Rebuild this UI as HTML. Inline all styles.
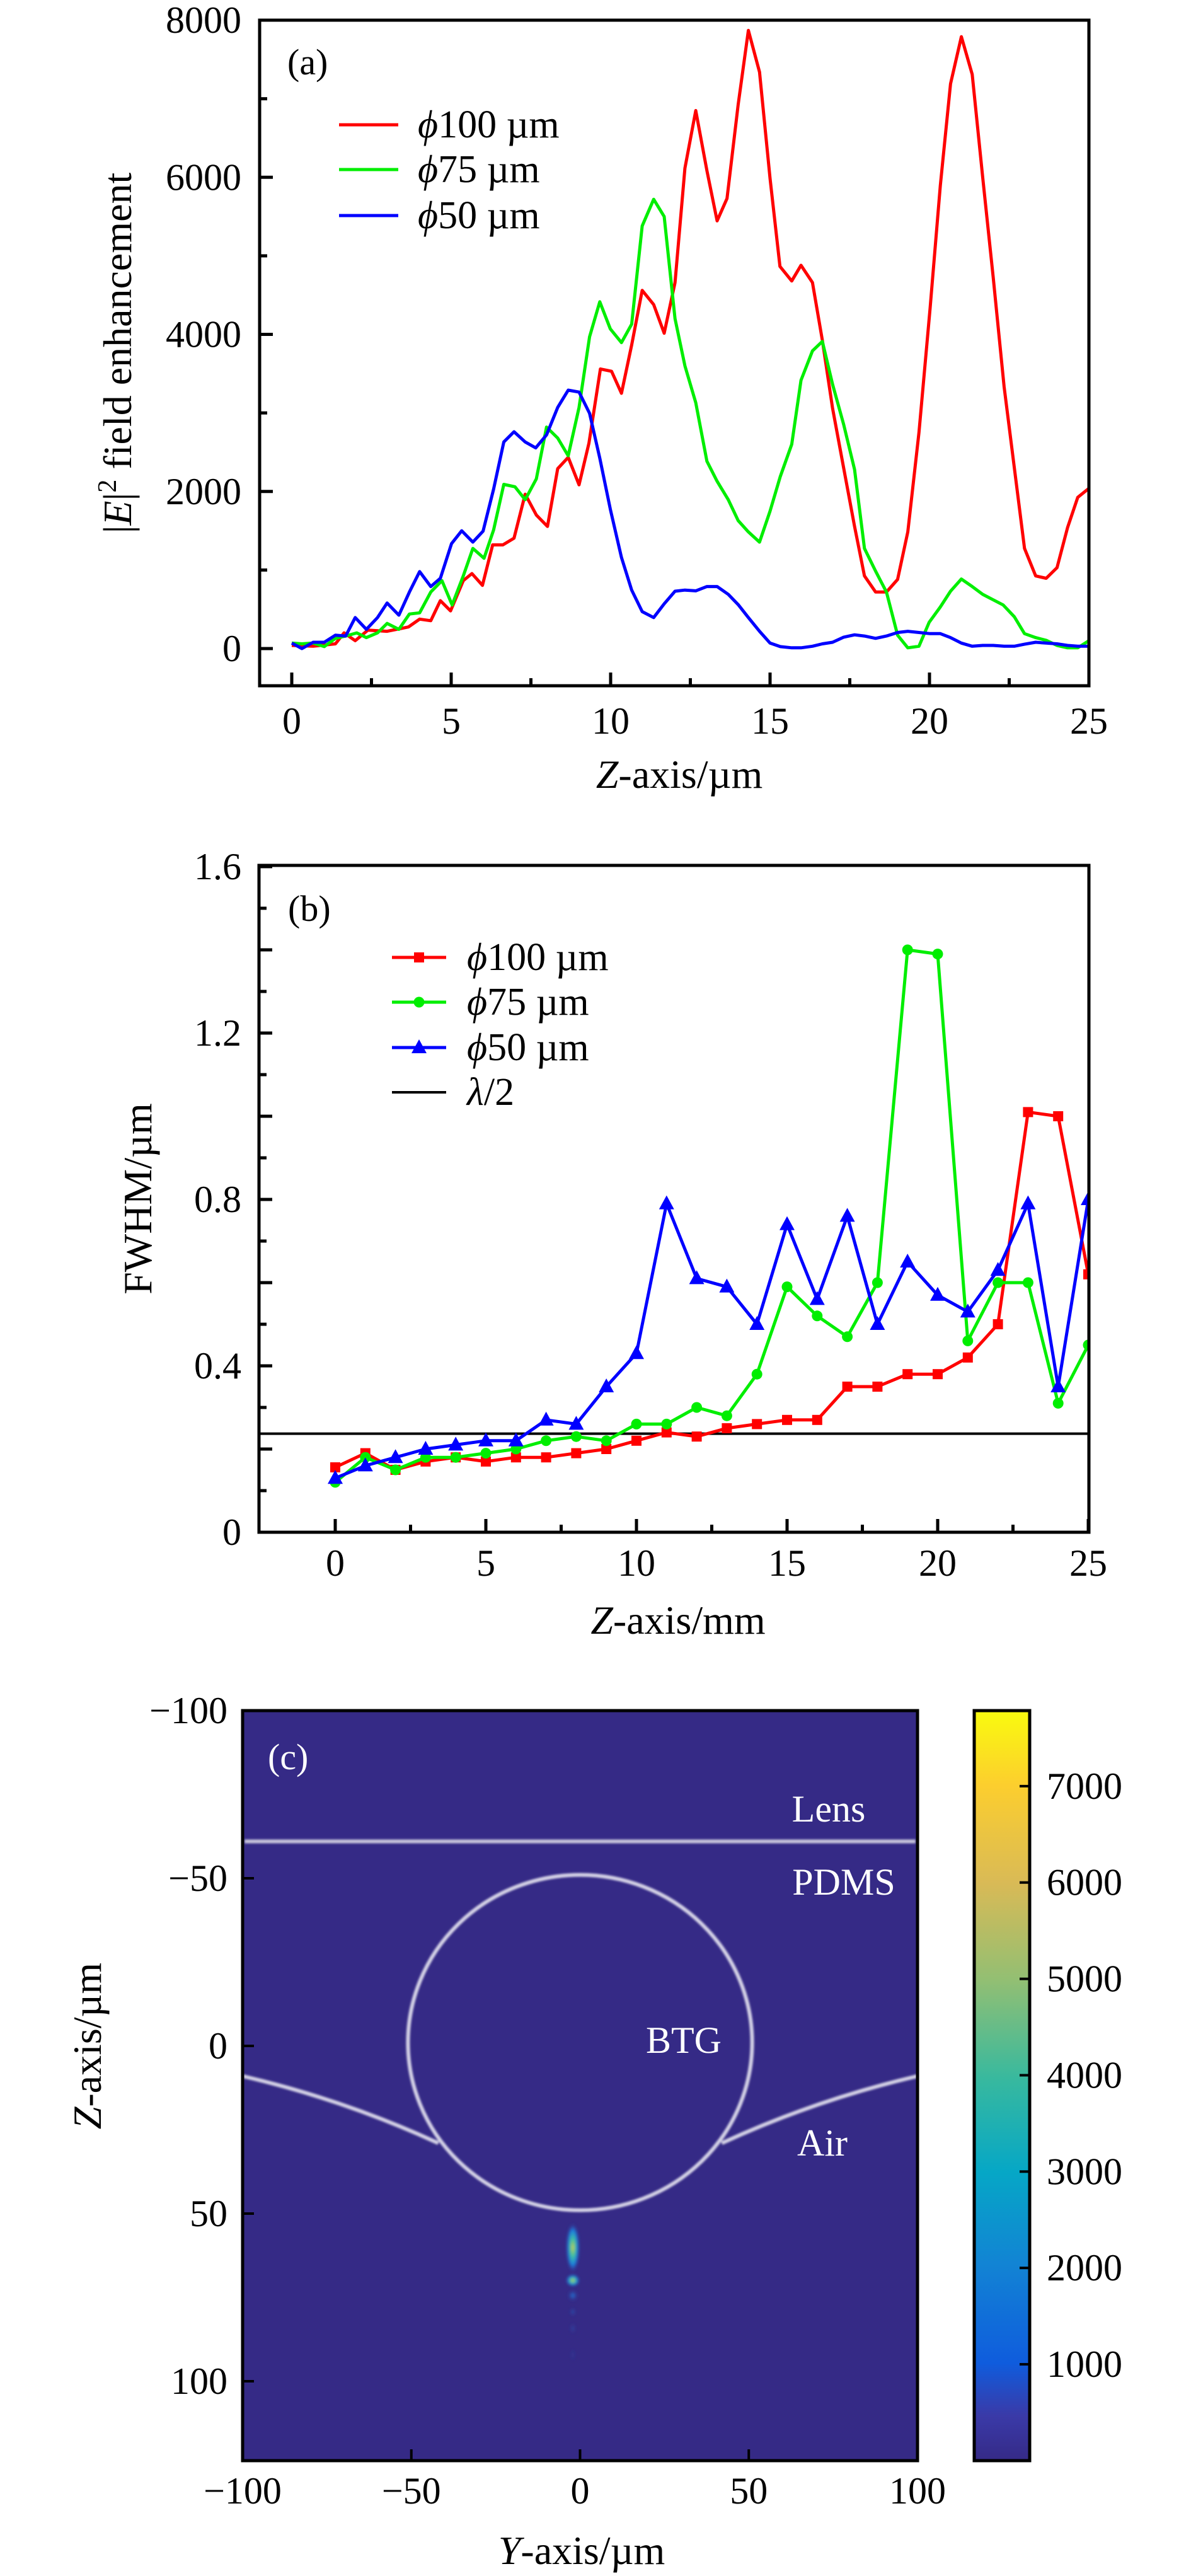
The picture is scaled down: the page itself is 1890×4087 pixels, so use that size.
<!DOCTYPE html>
<html><head><meta charset="utf-8"><title>Field enhancement figure</title>
<style>
html,body{margin:0;padding:0;background:#fff;}
svg{display:block;}
text{font-family:"Liberation Serif",serif;fill:#000;}
</style></head>
<body>
<svg id="fig" width="1890" height="4087" viewBox="0 0 1890 4087" xmlns="http://www.w3.org/2000/svg">
<defs>
<linearGradient id="parula" x1="0" y1="1" x2="0" y2="0">
<stop offset="0" stop-color="#352a87"/><stop offset="0.06" stop-color="#3a3aa8"/><stop offset="0.13" stop-color="#0f5cdd"/><stop offset="0.26" stop-color="#1283d4"/><stop offset="0.385" stop-color="#06a7c6"/><stop offset="0.51" stop-color="#38b99e"/><stop offset="0.64" stop-color="#92bf73"/><stop offset="0.77" stop-color="#d9ba56"/><stop offset="0.9" stop-color="#fcce2e"/><stop offset="1" stop-color="#f9fb0e"/>
</linearGradient>
<radialGradient id="spot1"><stop offset="0" stop-color="#d6d040"/><stop offset="0.35" stop-color="#40c0a0"/><stop offset="0.7" stop-color="#1a7ee0"/><stop offset="1" stop-color="#352a87" stop-opacity="0"/></radialGradient>
<radialGradient id="spot2"><stop offset="0" stop-color="#1a7ee0"/><stop offset="1" stop-color="#352a87" stop-opacity="0"/></radialGradient>
<filter id="blur"><feGaussianBlur stdDeviation="1.6"/></filter>
<filter id="blur2"><feGaussianBlur stdDeviation="2.5"/></filter>
</defs>
<g id="layer"></g>
</svg>
<script>
// ---------- Panel (a) data ----------
const aRedX=[0,0.67,1.37,1.64,1.99,2.39,2.99,3.66,4.01,4.36,4.66,4.98,5.38,5.65,5.98,6.3,6.62,6.97,7.32,7.67,8.02,8.34,8.67,9.01,9.32,9.68,10.03,10.34,10.66,10.99,11.35,11.68,12.02,12.33,12.67,13.02,13.34,13.65,14.0,14.32,14.67,15.0,15.31,15.68,15.97,16.33,16.64,16.96,17.31,17.65,17.96,18.31,18.65,19.0,19.32,19.67,20.02,20.34,20.66,21.0,21.34,21.67,22.0,22.34,22.66,22.98,23.33,23.66,24.0,24.33,24.65,25];
const aRedY=[40,30,60,200,100,235,220,275,375,355,610,480,865,955,805,1320,1320,1405,1965,1700,1555,2290,2435,2085,2615,3560,3530,3250,3865,4560,4380,4015,4660,6115,6850,6085,5445,5730,6925,7870,7340,5985,4865,4680,4880,4660,3925,3060,2295,1555,925,720,720,880,1485,2750,4335,5895,7190,7790,7310,5995,4720,3335,2305,1275,925,895,1030,1540,1925,2040];
const aGreenX=[0,0.32,0.67,1.02,1.37,1.69,2.04,2.34,2.69,2.99,3.36,3.69,4.01,4.36,4.71,5.03,5.38,5.68,6.03,6.33,6.65,7.0,7.32,7.67,7.99,8.34,8.67,9.01,9.34,9.66,9.99,10.34,10.66,10.99,11.35,11.68,12.02,12.33,12.67,13.02,13.34,13.69,14.0,14.32,14.67,15.0,15.32,15.68,15.97,16.33,16.64,16.96,17.31,17.65,17.96,18.31,18.65,19.0,19.32,19.67,19.99,20.34,20.66,21.0,21.34,21.67,22.0,22.31,22.66,22.98,23.33,23.66,24.0,24.33,24.65,25];
const aGreenY=[70,60,70,25,130,160,200,140,200,320,245,440,455,720,865,555,925,1275,1150,1510,2090,2060,1895,2160,2820,2680,2455,3070,3970,4415,4070,3895,4130,5380,5720,5500,4200,3600,3130,2385,2130,1895,1630,1485,1355,1750,2190,2600,3415,3790,3910,3365,2850,2280,1275,985,720,170,10,30,335,530,730,885,790,690,620,555,405,190,140,105,40,10,10,100];
const aBlueX=[0,0.32,0.67,1.02,1.37,1.69,1.99,2.34,2.69,2.99,3.36,3.69,4.01,4.36,4.66,5.01,5.33,5.68,6.0,6.33,6.65,6.97,7.32,7.65,7.99,8.34,8.67,9.01,9.34,9.66,9.99,10.34,10.66,10.99,11.35,11.68,12.02,12.33,12.67,13.02,13.34,13.69,14.0,14.32,14.67,15.0,15.32,15.68,15.97,16.33,16.64,16.96,17.31,17.65,17.96,18.31,18.65,19.0,19.32,19.67,20.02,20.34,20.66,21.0,21.34,21.67,22.0,22.34,22.66,22.98,23.33,23.66,24.0,24.33,24.65,25];
const aBlueY=[70,0,80,80,170,160,395,245,395,580,425,720,980,790,895,1335,1500,1355,1495,2030,2630,2760,2630,2555,2720,3070,3290,3265,2995,2425,1775,1160,745,470,395,570,730,745,735,790,790,690,560,395,220,70,25,10,10,30,60,80,145,175,160,130,160,205,220,205,190,190,140,70,30,40,40,30,30,55,80,70,60,40,30,30];
const aXTicks=[0,5,10,15,20,25];
const aYTicks=[0,2000,4000,6000,8000];
// ---------- Panel (b) data ----------
const bZ=[0,1,2,3,4,5,6,7,8,9,10,11,12,13,14,15,16,17,18,19,20,21,22,23,24,25];
const b100=[0.156,0.19,0.15,0.17,0.18,0.17,0.18,0.18,0.19,0.20,0.22,0.24,0.23,0.25,0.26,0.27,0.27,0.35,0.35,0.38,0.38,0.42,0.50,1.01,1.00,0.62];
const b75=[0.12,0.18,0.15,0.18,0.18,0.19,0.20,0.22,0.23,0.22,0.26,0.26,0.30,0.28,0.38,0.59,0.52,0.47,0.60,1.40,1.39,0.46,0.60,0.60,0.31,0.45];
const b50=[0.13,0.16,0.18,0.20,0.21,0.22,0.22,0.27,0.26,0.35,0.43,0.79,0.61,0.59,0.50,0.74,0.56,0.76,0.50,0.65,0.57,0.53,0.63,0.79,0.35,0.80];
const bHalfLambda=[0.237];
const bXTicks=[0,5,10,15,20,25];
const bYTicks=[0,0.4,0.8,1.2,1.6];
const bYTickLabels=["0","0.4","0.8","1.2","1.6"];
// ---------- Panel (c) data ----------
const cXTicks=[-100,-50,0,50,100];
const cYTicks=[-100,-50,0,50,100];
const cBarTicks=[1000,2000,3000,4000,5000,6000,7000];

const NS="http://www.w3.org/2000/svg";
const root=document.getElementById('layer');
function mk(tag,attrs,parent){const e=document.createElementNS(NS,tag);for(const k in attrs)e.setAttribute(k,attrs[k]);(parent||root).appendChild(e);return e;}
function txt(s,x,y,size,anchor,parent,extra){const t=mk('text',Object.assign({x:x,y:y,'font-size':size,'text-anchor':anchor||'middle'},extra||{}),parent);t.textContent=s;return t;}

// scales
const ax=v=>463+v*50.6, ay=v=>1029-v*0.12462;
const bx=v=>532+v*47.8, by=v=>2431-v*660;
const cx=v=>920.5+v*5.355, cy=v=>3246+v*5.32;

// ===== Panel (a) =====
const pa=mk('g',{});


function series(xs,ys,fx,fy,color,name,parent){
  let d='';xs.forEach((x,i)=>{d+=(i?'L':'M')+fx(x).toFixed(1)+' '+fy(ys[i]).toFixed(1);});
  const p=mk('path',{d:d,fill:'none',stroke:color,'stroke-width':5,'stroke-linejoin':'round'},parent);
  
  
  return p;
}
const clipA=mk('clipPath',{id:'clipA'},pa);mk('rect',{x:412,y:32,width:1316,height:1056},clipA);
const ga=mk('g',{'clip-path':'url(#clipA)'},pa);
series(aRedX,aRedY,ax,ay,'#ff0000','line-phi100',ga);
series(aGreenX,aGreenY,ax,ay,'#00ee00','line-phi75',ga);
series(aBlueX,aBlueY,ax,ay,'#0000ff','line-phi50',ga);
const frameA=mk('rect',{x:412,y:32,width:1316,height:1056,fill:'none',stroke:'#000','stroke-width':5},pa);


for(let v=0;v<=8000;v+=1000){const y=ay(v);mk('line',{x1:412,x2:412+(v%2000?12:21),y1:y,y2:y,stroke:'#000','stroke-width':5},pa);}
aYTicks.forEach(v=>{const t=txt(String(v),383,ay(v)+20,60,'end',pa);});
for(let v=0;v<=25;v+=2.5){const x=ax(v);mk('line',{x1:x,x2:x,y1:1088,y2:1088-(v%5?12:21),stroke:'#000','stroke-width':5},pa);}
aXTicks.forEach(v=>{const t=txt(String(v),ax(v),1164,60,'middle',pa);});
{const t=mk('text',{x:1078,y:1250,'font-size':64,'text-anchor':'middle'},pa);t.innerHTML='<tspan font-style="italic">Z</tspan>-axis/µm';}
{const t=mk('text',{x:0,y:0,'font-size':64,'text-anchor':'middle',transform:'translate(208,560) rotate(-90)'},pa);t.innerHTML='|<tspan font-style="italic">E</tspan>|<tspan font-size="42" dy="-24">2</tspan><tspan dy="24"> field enhancement</tspan>';}
{const t=txt('(a)',456,118,58,'start',pa);}
[['#ff0000','100',198],['#00ee00','75',269],['#0000ff','50',342]].forEach(r=>{
  const g=mk('g',{},pa);
  
  
  mk('line',{x1:538,x2:632,y1:r[2],y2:r[2],stroke:r[0],'stroke-width':5},g);
  const t=mk('text',{x:663,y:r[2]+20,'font-size':62},g);t.innerHTML='<tspan font-style="italic">ϕ</tspan>'+r[1]+' µm';
});

// ===== Panel (b) =====
const pb=mk('g',{});


const clipB=mk('clipPath',{id:'clipB'},pb);mk('rect',{x:411,y:1373,width:1317,height:1058},clipB);
const gb=mk('g',{'clip-path':'url(#clipB)'},pb);
{const l=mk('line',{x1:411,x2:1728,y1:by(bHalfLambda[0]),y2:by(bHalfLambda[0]),stroke:'#000','stroke-width':4},gb);}
function marker(type,x,y,color,parent){
  let m;
  if(type==='sq')m=mk('rect',{x:x-8,y:y-8,width:16,height:16,fill:color},parent);
  else if(type==='ci')m=mk('circle',{cx:x,cy:y,r:8.5,fill:color},parent);
  else m=mk('polygon',{points:`${x},${y-13} ${x-12},${y+9} ${x+12},${y+9}`,fill:color},parent);
  return m;
}
[[b100,'#ff0000','sq','phi100'],[b75,'#00ee00','ci','phi75'],[b50,'#0000ff','tr','phi50']].forEach(s=>{
  series(bZ,s[0],bx,by,s[1],'fwhm-line-'+s[3],gb);
  bZ.forEach((z,i)=>{const m=marker(s[2],bx(z),by(s[0][i]),s[1],gb);});
});
const frameB=mk('rect',{x:411,y:1373,width:1317,height:1058,fill:'none',stroke:'#000','stroke-width':5},pb);


for(let i=0;i<=16;i++){const v=i*0.1;const y=by(v);mk('line',{x1:411,x2:411+(i%2?12:21),y1:y,y2:y,stroke:'#000','stroke-width':5},pb);}
bYTicks.forEach((v,i)=>{const t=txt(bYTickLabels[i],383,by(v)+20,60,'end',pb);});
for(let v=0;v<=25;v+=2.5){const x=bx(v);mk('line',{x1:x,x2:x,y1:2431,y2:2431-(v%5?12:21),stroke:'#000','stroke-width':5},pb);}
bXTicks.forEach(v=>{const t=txt(String(v),bx(v),2500,60,'middle',pb);});
{const t=mk('text',{x:1076,y:2592,'font-size':64,'text-anchor':'middle'},pb);t.innerHTML='<tspan font-style="italic">Z</tspan>-axis/mm';}
{const t=mk('text',{x:0,y:0,'font-size':64,'text-anchor':'middle',transform:'translate(240,1902) rotate(-90)'},pb);t.textContent='FWHM/µm';}
{const t=txt('(b)',457,1461,58,'start',pb);}
[['#ff0000','100',1519,'sq'],['#00ee00','75',1590,'ci'],['#0000ff','50',1662,'tr']].forEach(r=>{
  const g=mk('g',{},pb);
  
  
  mk('line',{x1:622,x2:708,y1:r[2],y2:r[2],stroke:r[0],'stroke-width':5},g);
  marker(r[3],665,r[2],r[0],g);
  const t=mk('text',{x:741,y:r[2]+20,'font-size':62},g);t.innerHTML='<tspan font-style="italic">ϕ</tspan>'+r[1]+' µm';
});
{const g=mk('g',{},pb);


mk('line',{x1:622,x2:708,y1:1733,y2:1733,stroke:'#000','stroke-width':4},g);
const t=mk('text',{x:741,y:1753,'font-size':62},g);t.innerHTML='<tspan font-style="italic">λ</tspan>/2';}

// ===== Panel (c) =====
const pc=mk('g',{});


{const r=mk('rect',{x:385,y:2714,width:1071,height:1190,fill:'#352a86'},pc);}
const gc=mk('g',{filter:'url(#blur)'},pc);
mk('line',{x1:388,x2:1453,y1:cy(-61),y2:cy(-61),stroke:'#c8c6dc','stroke-width':6},gc);
{const c=mk('ellipse',{cx:cx(0),cy:cy(-1),rx:51*5.355,ry:50*5.32,fill:'none',stroke:'#d4d2e6','stroke-width':6},gc);}
mk('path',{d:`M${cx(-100)} ${cy(9)} Q${cx(-70)} ${cy(16)} ${cx(-42)} ${cy(29)}`,fill:'none',stroke:'#d4d2e6','stroke-width':6},gc);
mk('path',{d:`M${cx(100)} ${cy(9)} Q${cx(70)} ${cy(16)} ${cx(42)} ${cy(29)}`,fill:'none',stroke:'#d4d2e6','stroke-width':6},gc);
const gs=mk('g',{filter:'url(#blur2)'},pc);


mk('ellipse',{cx:909,cy:3566,rx:11,ry:40,fill:'url(#spot1)'},gs);
mk('ellipse',{cx:909,cy:3618,rx:11,ry:10,fill:'url(#spot1)'},gs);
mk('ellipse',{cx:909,cy:3642,rx:9,ry:10,fill:'url(#spot2)'},gs);
mk('ellipse',{cx:909,cy:3668,rx:6,ry:8,fill:'url(#spot2)',opacity:0.5},gs);
mk('ellipse',{cx:909,cy:3694,rx:6,ry:10,fill:'url(#spot2)',opacity:0.35},gs);
mk('ellipse',{cx:909,cy:3736,rx:5,ry:12,fill:'url(#spot2)',opacity:0.2},gs);
const frameC=mk('rect',{x:385,y:2714,width:1071,height:1190,fill:'none',stroke:'#000','stroke-width':5},pc);


cYTicks.forEach(v=>{const y=cy(v);mk('line',{x1:385,x2:403,y1:y,y2:y,stroke:'#000','stroke-width':4},pc);
  const t=txt((v<0?'−':'')+Math.abs(v),361,y+20,60,'end',pc);});
cXTicks.forEach(v=>{const x=cx(v);if(v>-100&&v<100)mk('line',{x1:x,x2:x,y1:3904,y2:3886,stroke:'#000','stroke-width':4},pc);
  const t=txt((v<0?'−':'')+Math.abs(v),x,3972,60,'middle',pc);});
[['Lens',1315,2870],['PDMS',1339,2986],['BTG',1085,3237],['Air',1305,3400]].forEach(r=>{
  const t=txt(r[0],r[1],r[2]+20,60,'middle',pc,{style:'fill:#fff'});
  
  
});
{const t=txt('(c)',425,2807,58,'start',pc,{style:'fill:#fff'});}
{const t=mk('text',{x:923,y:4068,'font-size':64,'text-anchor':'middle'},pc);t.innerHTML='<tspan font-style="italic">Y</tspan>-axis/µm';}
{const t=mk('text',{x:0,y:0,'font-size':64,'text-anchor':'middle',transform:'translate(160,3246) rotate(-90)'},pc);t.innerHTML='<tspan font-style="italic">Z</tspan>-axis/µm';}
// colorbar
const barTop=2714,barBot=3904,barMax=7784;
const cbar=v=>barBot-v/barMax*(barBot-barTop);
{const r=mk('rect',{x:1546,y:barTop,width:88,height:barBot-barTop,fill:'url(#parula)',stroke:'#000','stroke-width':5},pc);}
cBarTicks.forEach(v=>{const y=cbar(v);mk('line',{x1:1634,x2:1618,y1:y,y2:y,stroke:'#000','stroke-width':4},pc);
  const t=txt(String(v),1661,y+20,60,'start',pc);});
</script>
</body></html>
